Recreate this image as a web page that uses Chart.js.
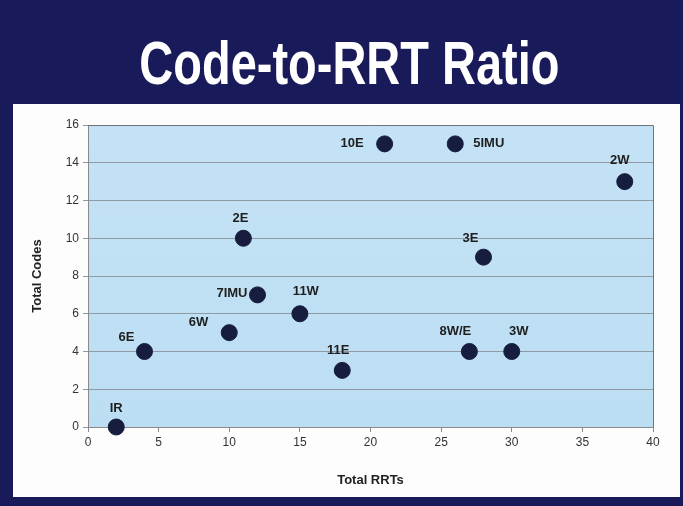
<!DOCTYPE html>
<html>
<head>
<meta charset="utf-8">
<script src="https://cdn.jsdelivr.net/npm/chart.js@4"></script>
<style>
  html, body { margin: 0; padding: 0; }
  body { width: 683px; height: 506px; background: #191a5a; position: relative; overflow: hidden; font-family: "Liberation Sans", Arial, sans-serif; }
  #title { position: absolute; left: 8px; width: 683px; top: 33px; text-align: center; color: #ffffff; font-weight: bold; font-size: 61px; line-height: 61px; transform: scaleX(0.77); transform-origin: 341px 0; }
  #panel { position: absolute; left: 13px; top: 104px; width: 667px; height: 393px; background: #fdfdfd; }
</style>
</head>
<body>
<div id="title">Code-to-RRT Ratio</div>
<div id="panel"><canvas id="chart" width="667" height="393"></canvas></div>
<script>
const units = ['IR', '6E', '6W', '2E', '7IMU', '11W', '11E', '10E', '5IMU', '8W/E', '3E', '3W', '2W'];
const totalRRTs = [2, 4, 10, 11, 12, 15, 18, 21, 26, 27, 28, 30, 38];
const totalCodes = [0, 4, 5, 10, 7, 6, 3, 15, 15, 4, 9, 4, 13];
const xTicks = [0, 5, 10, 15, 20, 25, 30, 35, 40];
const yTicks = [0, 2, 4, 6, 8, 10, 12, 14, 16];

// where each label sits relative to its dot
const labelPlace = {
    'IR': [0, -19, 'center'],
    '6E': [-18, -14, 'center'],
    '6W': [-21, -10, 'right'],
    '2E': [-3, -20, 'center'],
    '7IMU': [-10, -1, 'right'],
    '11W': [6, -22, 'center'],
    '11E': [-4, -20, 'center'],
    '10E': [-21, 0, 'right'],
    '5IMU': [18, 0, 'left'],
    '8W/E': [-14, -20, 'center'],
    '3E': [-13, -19, 'center'],
    '3W': [7, -20, 'center'],
    '2W': [-5, -21, 'center']
};

const plotBg = {
    id: 'plotBg',
    beforeDraw(chart) {
        const a = chart.chartArea, ctx = chart.ctx;
        ctx.save();
        const g = ctx.createLinearGradient(0, a.top, 0, a.bottom);
        g.addColorStop(0, '#c4e2f5');
        g.addColorStop(1, '#bcdef3');
        ctx.fillStyle = g;
        ctx.fillRect(a.left, a.top, a.right - a.left, a.bottom - a.top);
        ctx.restore();
    },
    afterDraw(chart) {
        const a = chart.chartArea, ctx = chart.ctx;
        ctx.save();
        ctx.strokeStyle = '#6f7478';
        ctx.lineWidth = 1;
        ctx.beginPath();
        ctx.moveTo(a.left, a.top + 0.5);
        ctx.lineTo(a.right + 0.5, a.top + 0.5);
        ctx.lineTo(a.right + 0.5, a.bottom);
        ctx.stroke();
        ctx.restore();
    }
};

const pointLabels = {
    id: 'pointLabels',
    afterDatasetsDraw(chart) {
        const ctx = chart.ctx;
        const meta = chart.getDatasetMeta(0);
        ctx.save();
        ctx.font = 'bold 13px "Liberation Sans", Arial, sans-serif';
        ctx.fillStyle = '#1e1e1e';
        ctx.textBaseline = 'middle';
        meta.data.forEach((pt, i) => {
            const p = labelPlace[units[i]];
            ctx.textAlign = p[2];
            ctx.fillText(units[i], pt.x + p[0], pt.y + p[1]);
        });
        ctx.restore();
    }
};

new Chart(document.getElementById('chart'), {
    type: 'scatter',
    data: {
        datasets: [{
            label: 'Codes',
            data: totalRRTs.map((x, i) => ({x: x, y: totalCodes[i]})),
            backgroundColor: '#161d3e',
            borderColor: '#161d3e',
            pointRadius: 8,
            pointHoverRadius: 8,
            clip: false
        }]
    },
    options: {
        responsive: false,
        animation: false,
        layout: { padding: { left: 13, top: 21, right: 27, bottom: 0 } },
        plugins: { legend: { display: false }, tooltip: { enabled: false } },
        scales: {
            x: {
                type: 'linear', min: 0, max: 40,
                afterBuildTicks: s => { s.ticks = xTicks.map(v => ({value: v})); },
                afterFit: s => { s.height = 70; },
                grid: { drawOnChartArea: false, color: '#8a8a8a', tickLength: 5 },
                border: { color: '#8a8a8a' },
                ticks: { color: '#333', font: { family: '"Liberation Sans", Arial', size: 12 }, padding: 3 },
                title: { display: true, text: 'Total RRTs', color: '#222', font: { family: '"Liberation Sans", Arial', size: 13, weight: 'bold' }, padding: { top: 7, bottom: 9 } }
            },
            y: {
                type: 'linear', min: 0, max: 16,
                afterBuildTicks: s => { s.ticks = yTicks.map(v => ({value: v})); },
                afterFit: s => { s.width = 62; },
                grid: { color: '#8f9aa3', tickLength: 5 },
                border: { color: '#8a8a8a' },
                ticks: { color: '#333', font: { family: '"Liberation Sans", Arial', size: 12 }, padding: 4 },
                title: { display: true, text: 'Total Codes', color: '#222', font: { family: '"Liberation Sans", Arial', size: 13, weight: 'bold' }, padding: { bottom: 10 } }
            }
        }
    },
    plugins: [plotBg, pointLabels]
});
</script>
</body>
</html>
